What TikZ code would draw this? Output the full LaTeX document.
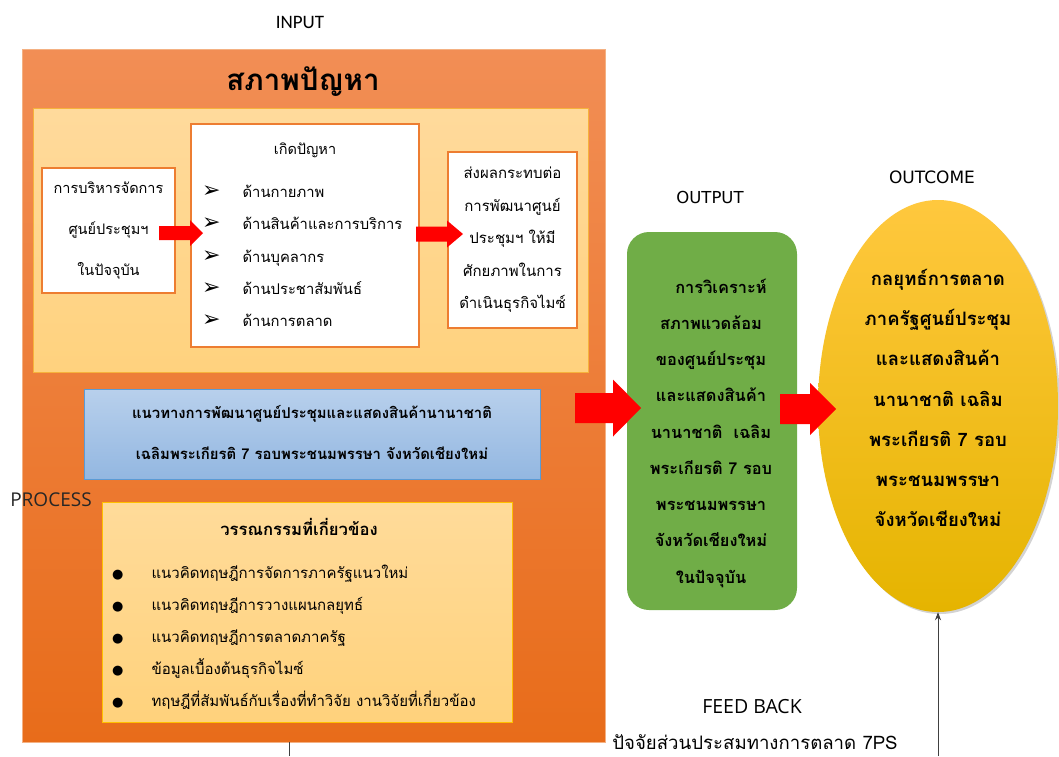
\documentclass[tikz,border=0pt]{standalone}
\usepackage{fontspec}
\newfontfamily\thai[Script=Thai]{Loma}
\newfontfamily\dv{DejaVu Sans}
\newfontfamily\cb{Carlito}
\newfontfamily\os{Open Sans}
\usetikzlibrary{shapes.geometric,shadows,arrows.meta}
\definecolor{bigtop}{HTML}{F28E55}
\definecolor{bigbot}{HTML}{E86C1A}
\definecolor{bigedge}{HTML}{F4B183}
\definecolor{yeltop}{HTML}{FFDA9C}
\definecolor{yelbot}{HTML}{FFD27E}
\definecolor{yeledge}{HTML}{F6B23C}
\definecolor{boxorange}{HTML}{ED7D31}
\definecolor{bluetop}{HTML}{B8D0EC}
\definecolor{bluebot}{HTML}{93B7E1}
\definecolor{blueedge}{HTML}{5B9BD5}
\definecolor{littop}{HTML}{FFDB9A}
\definecolor{litbot}{HTML}{FFD27C}
\definecolor{litedge}{HTML}{FFC000}
\definecolor{green}{HTML}{70AD47}
\definecolor{elltop}{HTML}{FFC83E}
\definecolor{ellbot}{HTML}{E5B400}
\definecolor{arrred}{HTML}{FF0000}
\tikzset{
  wbox/.style={draw=boxorange, line width=1.2pt, fill=white, inner sep=0pt},
  ttxt/.style={font=\thai\fontsize{14.5}{41}\selectfont, align=center, inner sep=0pt},
  tbold/.style={font=\thai\bfseries\fontsize{16.4}{36.25}\selectfont, align=center, inner sep=0pt},
  lab/.style={inner sep=0pt},
}
\newcommand\blockarr[6]{%
  \fill[arrred] (#1,#3-#4) -- (#2-#6,#3-#4) -- (#2-#6,#3-#5) -- (#2,#3) --
    (#2-#6,#3+#5) -- (#2-#6,#3+#4) -- (#1,#3+#4) -- cycle;}
\newcommand\arh{{\dv\fontsize{22}{22}\selectfont ➢}}
\newcommand\blt{{\dv\fontsize{13}{13}\selectfont ●}}
\begin{document}
\begin{tikzpicture}[x=1pt,y=-1pt]
\useasboundingbox (0,0) rectangle (1059,756);
% labels
\node[lab, font=\cb\fontsize{19}{22}\selectfont] (input) at (300,22) {INPUT};
\node[lab, font=\dv\fontsize{16.5}{20}\selectfont] (output) at (710,197) {OUTPUT};
\node[lab, font=\dv\fontsize{17}{20}\selectfont] (outcome) at (932,177) {OUTCOME};
% big orange
\node[draw=bigedge, line width=0.6pt, top color=bigtop, bottom color=bigbot,
      minimum width=583pt, minimum height=693pt, inner sep=0pt] (big) at (313.5,395.5) {};
\node[lab, font=\thai\bfseries\fontsize{29.5}{32}\selectfont] (title) at (303,82) {สภาพปัญหา};
% yellow panel
\node[draw=yeledge, line width=1pt, top color=yeltop, bottom color=yelbot,
      minimum width=555pt, minimum height=264pt, inner sep=0pt] (panel) at (310.5,240) {};
\node[wbox, minimum width=133pt, minimum height=125pt] (b1) at (108.5,230.5) {};
\node[ttxt] (b1t) at (108.5,231) {การบริหารจัดการ\\ศูนย์ประชุมฯ\\ในปัจจุบัน};
\node[wbox, minimum width=228pt, minimum height=223pt] (b2) at (305,235.5) {};
\node[ttxt] (b2t) at (305,150) {เกิดปัญหา};
\node[font=\fontsize{14.8}{32.3}\selectfont, align=left, inner sep=0pt, anchor=west] (b2l) at (202,256)
  {\arh\hspace{22pt}{\thai ด้านกายภาพ}\\
   \arh\hspace{22pt}{\thai ด้านสินค้าและการบริการ}\\
   \arh\hspace{22pt}{\thai ด้านบุคลากร}\\
   \arh\hspace{22pt}{\thai ด้านประชาสัมพันธ์}\\
   \arh\hspace{22pt}{\thai ด้านการตลาด}};
\node[wbox, minimum width=129pt, minimum height=176pt] (b3) at (512.5,240) {};
\node[ttxt, font=\thai\fontsize{15}{32.5}\selectfont] (b3t) at (512.5,240)
  {ส่งผลกระทบต่อ\\การพัฒนาศูนย์\\ประชุมฯ ให้มี\\ศักยภาพในการ\\ดำเนินธุรกิจไมซ์};
\blockarr{159}{203}{233}{7}{13}{13}
\blockarr{416}{463}{234}{7.5}{13.5}{16}
% blue box
\node[draw=blueedge, line width=1pt, top color=bluetop, bottom color=bluebot,
      minimum width=456pt, minimum height=90pt, inner sep=0pt] (blue) at (312,434) {};
\node[tbold, font=\thai\bfseries\fontsize{14.9}{41}\selectfont] (bluet) at (312,432)
  {แนวทางการพัฒนาศูนย์ประชุมและแสดงสินค้านานาชาติ\\เฉลิมพระเกียรติ 7 รอบพระชนมพรรษา จังหวัดเชียงใหม่};
% process
\node[lab, font=\os\fontsize{19}{22}\selectfont, text=black!85] (process) at (51,500) {PROCESS};
\node[draw=litedge, line width=1pt, top color=littop, bottom color=litbot,
      minimum width=410pt, minimum height=220pt, inner sep=0pt] (lit) at (307,612) {};
\node[lab, font=\thai\bfseries\fontsize{16.7}{18}\selectfont] (litt) at (299,527) {วรรณกรรมที่เกี่ยวข้อง};
\node[font=\fontsize{15}{32}\selectfont, align=left, inner sep=0pt, anchor=west] (litl) at (112,637)
  {\blt\hspace{28pt}{\thai แนวคิดทฤษฎีการจัดการภาครัฐแนวใหม่}\\
   \blt\hspace{28pt}{\thai แนวคิดทฤษฎีการวางแผนกลยุทธ์}\\
   \blt\hspace{28pt}{\thai แนวคิดทฤษฎีการตลาดภาครัฐ}\\
   \blt\hspace{28pt}{\thai ข้อมูลเบื้องต้นธุรกิจไมซ์}\\
   \blt\hspace{28pt}{\thai ทฤษฎีที่สัมพันธ์กับเรื่องที่ทำวิจัย งานวิจัยที่เกี่ยวข้อง}};
% output
\node[fill=green, rounded corners=22pt, minimum width=170pt, minimum height=378pt, inner sep=0pt] (out) at (712,421) {};
\node[tbold] (outt) at (711,433)
  {\hspace{20pt}การวิเคราะห์\\สภาพแวดล้อม\\ของศูนย์ประชุม\\และแสดงสินค้า\\นานาชาติ\ \ เฉลิม\\พระเกียรติ 7 รอบ\\พระชนมพรรษา\\จังหวัดเชียงใหม่\\ในปัจจุบัน};
\blockarr{575}{641}{408}{15}{28.5}{28}
% outcome
\node[ellipse, top color=elltop, bottom color=ellbot, minimum width=240pt, minimum height=412pt,
      inner sep=0pt, drop shadow={opacity=0.35, shadow xshift=2pt, shadow yshift=-2pt}] (ell) at (938,406) {};
\node[tbold, font=\thai\bfseries\fontsize{18.5}{40.3}\selectfont] (ellt) at (938,398)
  {กลยุทธ์การตลาด\\ภาครัฐศูนย์ประชุม\\และแสดงสินค้า\\นานาชาติ เฉลิม\\พระเกียรติ 7 รอบ\\พระชนมพรรษา\\จังหวัดเชียงใหม่};
\blockarr{780}{836}{409}{15}{26}{26}
% feedback
\node[lab, font=\os\fontsize{19.5}{22}\selectfont] (fb) at (752,707) {FEED BACK};
\node[lab, font=\thai\fontsize{18.6}{22}\selectfont] (fbt) at (755,742) {ปัจจัยส่วนประสมทางการตลาด 7PS};
\coordinate (c1) at (289,756);
\coordinate (c2) at (938,756);
\draw[line width=0.8pt, black!75] (big.south -| c1) -- (c1);
\draw[line width=0.8pt, black!75, -{Stealth[length=8pt,width=6pt]}] (c2) -- (ell.south);
\end{tikzpicture}
\end{document}
